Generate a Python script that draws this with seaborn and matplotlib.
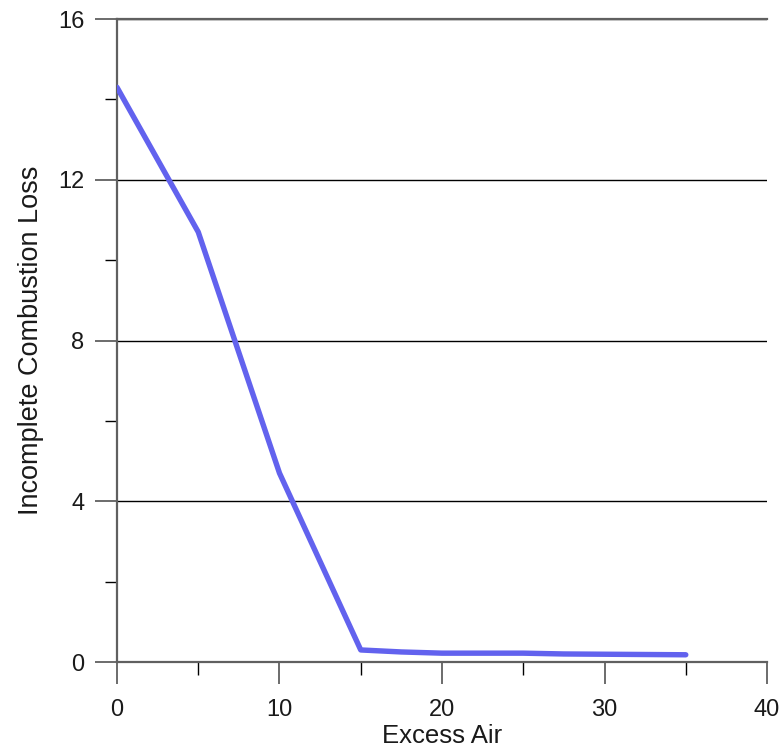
import matplotlib
matplotlib.use("Agg")
import matplotlib.pyplot as plt
import seaborn as sns
import pandas as pd
from matplotlib.ticker import MultipleLocator

excess_air = [0, 5, 10, 15, 17.5, 20, 25, 27.5, 35]
combustion_loss = [14.3, 10.7, 4.7, 0.3, 0.25, 0.22, 0.22, 0.2, 0.18]
x_ticks = [0, 10, 20, 30, 40]
y_ticks = [0, 4, 8, 12, 16]

df = pd.DataFrame({"Excess Air": excess_air, "Incomplete Combustion Loss": combustion_loss})

sns.set_theme(style="white")
plt.rcParams['font.family'] = ['Liberation Sans', 'DejaVu Sans']

fig = plt.figure(figsize=(7.83, 7.51), dpi=100)
ax = fig.add_axes([0.1494, 0.1185, 0.8302, 0.8562])

sns.lineplot(data=df, x="Excess Air", y="Incomplete Combustion Loss", ax=ax,
             color="#6262EE", linewidth=3.9, zorder=3)

ax.set_xlim(0, 40)
ax.set_ylim(0, 16)
ax.set_xticks(x_ticks)
ax.set_yticks(y_ticks)
ax.xaxis.set_minor_locator(MultipleLocator(5))
ax.yaxis.set_minor_locator(MultipleLocator(2))

ax.yaxis.grid(True, which="major", color="black", linewidth=1.0)
ax.xaxis.grid(False)

for s in ["left", "bottom", "top"]:
    ax.spines[s].set_color("#606060")
    ax.spines[s].set_linewidth(1.6)
ax.spines["right"].set_visible(False)

ax.tick_params(axis="both", which="major", direction="out", length=15.5, width=1.3,
               color="#606060", labelsize=17, colors="#606060",
               labelcolor="#1a1a1a", bottom=True, left=True)
ax.tick_params(axis="x", which="major", pad=11)
ax.tick_params(axis="y", which="major", pad=8)
ax.tick_params(axis="both", which="minor", direction="out", length=9, width=1.0,
               color="black", bottom=True, left=True)
ax.tick_params(axis="x", which="both", top=False)

ax.set_xlabel("Excess Air", fontsize=18.5, labelpad=2, color="#1a1a1a")
ax.set_ylabel("Incomplete Combustion Loss", fontsize=19.5, labelpad=10, color="#1a1a1a")

fig.savefig("out.png", dpi=100)
